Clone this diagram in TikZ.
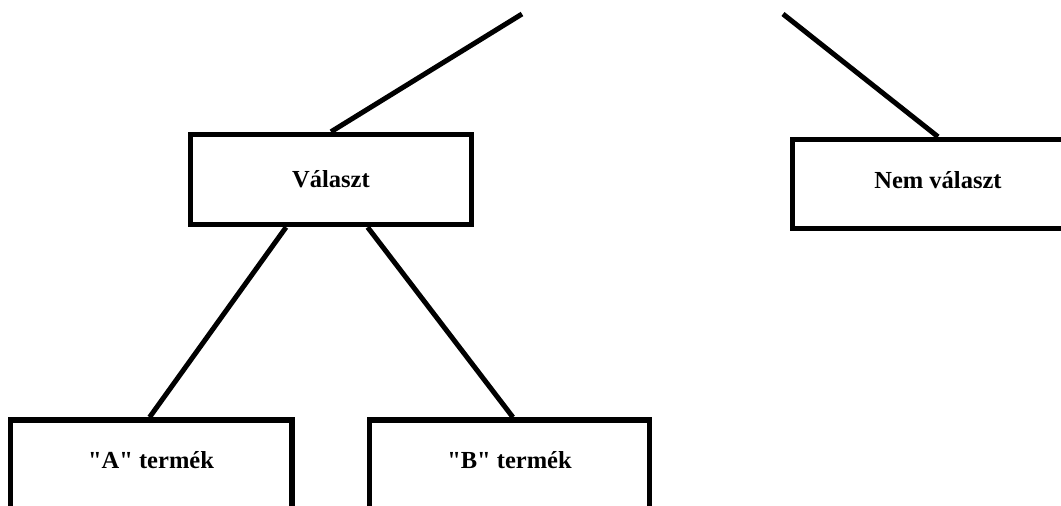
\documentclass[tikz,border=0pt]{standalone}
\usepackage{fontspec}
\setmainfont{Liberation Serif}[Ligatures=TeXOff]
\usetikzlibrary{calc}
\begin{document}
\begin{tikzpicture}[x=1pt,y=-1pt,
  box/.style={draw=black, line width=5.5pt, fill=white, inner sep=0pt,
    font=\bfseries\fontsize{24.5}{29}\selectfont},
  conn/.style={draw=black, line width=5pt}]
\clip (0,0) rectangle (1061,506);
\fill[white] (0,0) rectangle (1061,506);
% boxes
\node[box, minimum width=280.75pt, minimum height=90pt] (v) at (331,179.5) {Választ};
\node[box, minimum width=291pt, minimum height=89pt] (n) at (938,184) {\raisebox{-4pt}[0pt][0pt]{Nem választ}};
\node[box, minimum width=281.5pt, minimum height=110pt] (a) at (151,475) {\raisebox{6.5pt}[0pt][0pt]{"A" termék}};
\node[box, minimum width=280pt, minimum height=110pt] (b) at (509.5,475) {\raisebox{6.5pt}[0pt][0pt]{"B" termék}};
% free ends of the top connectors
\coordinate (tl) at (522,14);
\coordinate (tr) at (783,14);
\coordinate (vl) at ($(v.south west)!0.343!(v.south east)$);
\coordinate (vr) at ($(v.south west)!0.628!(v.south east)$);
\coordinate (aa) at ($(a.north west)!0.495!(a.north east)$);
\coordinate (bb) at ($(b.north west)!0.512!(b.north east)$);
\draw[conn] (tl) -- (v.north);
\draw[conn] (tr) -- (n.north);
\draw[conn] (vl) -- (aa);
\draw[conn] (vr) -- (bb);
\end{tikzpicture}
\end{document}
